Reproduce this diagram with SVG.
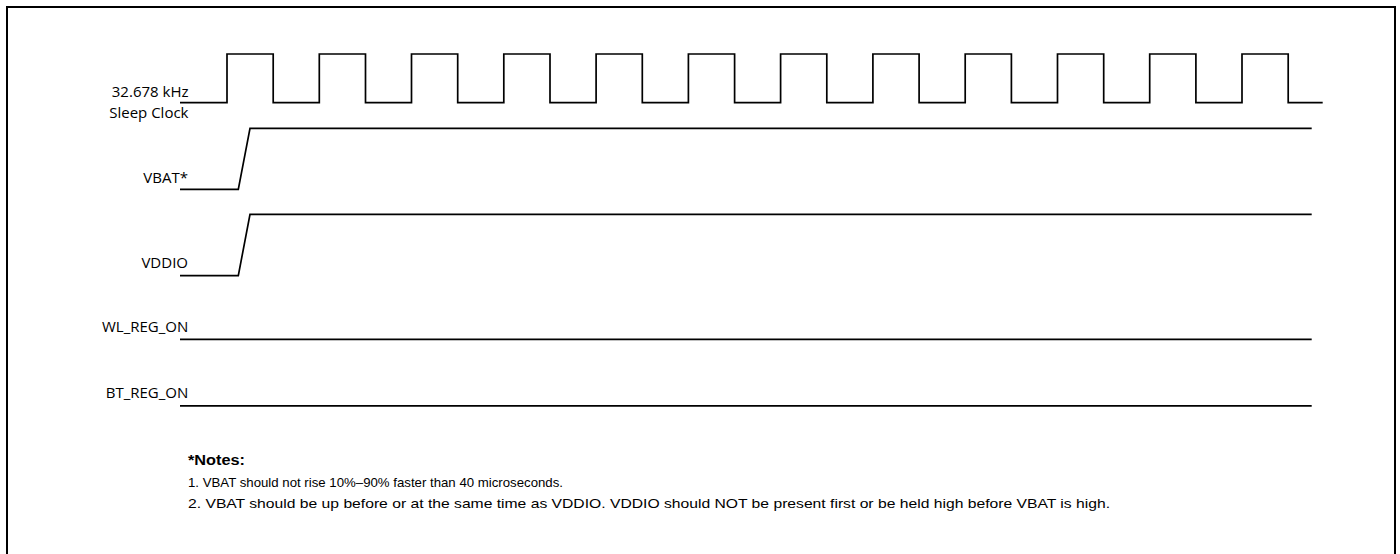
<svg xmlns="http://www.w3.org/2000/svg" width="1400" height="554" viewBox="0 0 1400 554">
<style>
.bg{fill:#fff}
.frame{fill:none;stroke:#000;stroke-width:2}
.sig{fill:none;stroke:#000;stroke-width:1.7;stroke-linejoin:miter}
.lbl{font-family:"Open Sans","Noto Sans",sans-serif;font-size:15px;fill:#000;text-anchor:end}
.note{font-family:"Liberation Sans","Noto Sans",sans-serif;font-size:13.5px;fill:#000}
.noteb{font-family:"Liberation Sans","Noto Sans",sans-serif;font-size:14px;font-weight:bold;fill:#000}
</style>
<rect class="bg" x="0" y="0" width="1400" height="554"/>
<path class="frame" d="M7,560 V7 H1395 V560"/>
<g id="connectors">
<path id="clk-wave" class="sig" d="M180,102.7 H227 V54 H273.2 V102.7 H319.3 V54 H365.5 V102.7 H411.5 V54 H457.7 V102.7 H503.8 V54 H550 V102.7 H596.1 V54 H642.3 V102.7 H688.4 V54 H734.6 V102.7 H780.6 V54 H826.8 V102.7 H872.9 V54 H919.1 V102.7 H965.2 V54 H1011.4 V102.7 H1057.5 V54 H1103.7 V102.7 H1149.7 V54 H1195.9 V102.7 H1242 V54 H1288.2 V102.7 H1322.7"/>
<path id="vbat-wave" class="sig" d="M180,189.3 H238.3 L250,128.3 H1311.7"/>
<path id="vddio-wave" class="sig" d="M180,275.7 H238.3 L250,214.3 H1311.7"/>
<path id="wl-wave" class="sig" d="M180,339.3 H1311.7"/>
<path id="bt-wave" class="sig" d="M180,405.8 H1311.7"/>
</g>
<g id="node-clk">
<text class="lbl" x="188.5" y="96.7">32.678 kHz</text>
<text class="lbl" x="188.5" y="118">Sleep Clock</text>
</g>
<g id="node-vbat"><text class="lbl" x="188" y="182.7">VBAT*</text></g>
<g id="node-vddio"><text class="lbl" x="188" y="268.3">VDDIO</text></g>
<g id="node-wl"><text class="lbl" x="188.3" y="332.3">WL_REG_ON</text></g>
<g id="node-bt"><text class="lbl" x="188.3" y="398.3">BT_REG_ON</text></g>
<g id="notes">
<text class="noteb" x="188" y="465" textLength="57" lengthAdjust="spacingAndGlyphs">*Notes:</text>
<text class="note" x="188" y="486.7" textLength="375" lengthAdjust="spacingAndGlyphs">1. VBAT should not rise 10%–90% faster than 40 microseconds.</text>
<text class="note" x="188" y="508.3" textLength="922" lengthAdjust="spacingAndGlyphs">2. VBAT should be up before or at the same time as VDDIO. VDDIO should NOT be present first or be held high before VBAT is high.</text>
</g>
</svg>
